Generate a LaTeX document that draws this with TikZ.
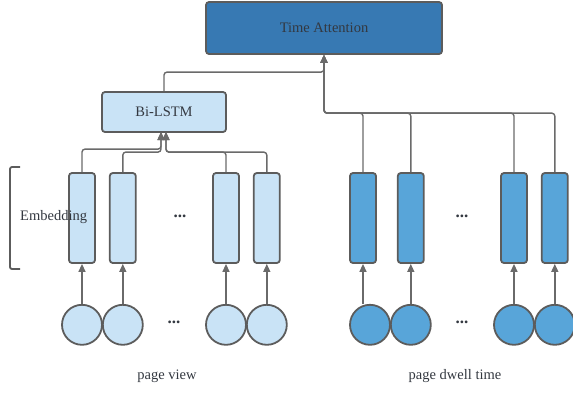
\documentclass[tikz,border=0pt]{standalone}
\usepackage{fontspec}
\setmainfont{Liberation Serif}
\usetikzlibrary{positioning,arrows.meta}

\definecolor{paleblue}{HTML}{C9E3F6}
\definecolor{midblue}{HTML}{58A5D9}
\definecolor{deepblue}{HTML}{3779B3}
\definecolor{edgegray}{HTML}{5C5C5C}
\definecolor{wiregray}{HTML}{6A6A6A}
\definecolor{inkgray}{HTML}{333840}

\begin{document}
\begin{tikzpicture}[x=1pt,y=-1pt]
  % Styles
  \tikzstyle{block}=[draw=edgegray, line width=1.8pt, rounded corners=3pt, text centered, text=inkgray, font=\fontsize{14.5}{16}\selectfont]
  \tikzstyle{embview}=[block, fill=paleblue, minimum width=26pt, minimum height=90pt]
  \tikzstyle{embdwell}=[block, fill=midblue, minimum width=26pt, minimum height=90pt]
  \tikzstyle{inview}=[circle, draw=edgegray, line width=1.8pt, fill=paleblue, minimum size=40pt]
  \tikzstyle{indwell}=[circle, draw=edgegray, line width=1.8pt, fill=midblue, minimum size=40pt]
  \tikzstyle{caption}=[text=inkgray, font=\fontsize{14.5}{16}\selectfont]
  \tikzstyle{dots}=[text=inkgray, font=\fontsize{17}{18}\selectfont\bfseries]
  \tikzstyle{arrow}=[-{Triangle[length=8pt,width=7pt]}, draw=wiregray, line width=1.4pt, rounded corners=3pt]

  \useasboundingbox (0,0) rectangle (573,392);

  % Nodes
  \node[block, fill=deepblue, minimum width=236pt, minimum height=52pt] (att) at (324,28) {Time Attention};
  \node[block, fill=paleblue, minimum width=124pt, minimum height=40pt] (lstm) at (164,112) {Bi-LSTM};

  \node[embview] (v1) at (82,218) {};
  \node[embview, right=13pt of v1] (v2) {};
  \node[embview] (v3) at (226,218) {};
  \node[embview, right=13pt of v3] (v4) {};
  \node[dots] (vdots) at (180,216) {...};

  \node[embdwell] (d1) at (363,218) {};
  \node[embdwell, right=20pt of d1] (d2) {};
  \node[embdwell] (d3) at (514,218) {};
  \node[embdwell, right=13pt of d3] (d4) {};
  \node[dots] (ddots) at (462,216) {...};

  \node[inview, below=40pt of v1] (cv1) {};
  \node[inview, below=40pt of v2] (cv2) {};
  \node[inview, below=40pt of v3] (cv3) {};
  \node[inview, below=40pt of v4] (cv4) {};
  \node[dots] (cvdots) at (174,322) {...};

  \node[indwell, below=40pt of d1, xshift=7pt] (cd1) {};
  \node[indwell, below=40pt of d2] (cd2) {};
  \node[indwell, below=40pt of d3] (cd3) {};
  \node[indwell, below=40pt of d4] (cd4) {};
  \node[dots] (cddots) at (462,322) {...};

  \node[caption] (pview) at (167,376) {page view};
  \node[caption] (pdwell) at (455,376) {page dwell time};

  % Embedding bracket
  \draw[draw=edgegray, line width=1.8pt, rounded corners=2pt] (20,167) -- (10,167) -- (10,269) -- (20,269);
  \node[caption, anchor=west, inner sep=0pt] (emb) at (20,217) {Embedding};

  % Arrows
  \coordinate (inL) at (161,132);
  \coordinate (inR) at (166,132);
  \draw[arrow] (lstm.north) -- ++(0,-19) -| (att.south);
  \foreach \n in {d1,d2,d3,d4}
    \draw[arrow] (\n.north) -- ++(0,-59) -| (att.south);
  \draw[arrow] (v1.north) -- ++(0,-23) -| (inL);
  \draw[arrow] (v2.north) -- ++(0,-20) -| (inL);
  \draw[arrow] (v3.north) -- ++(0,-20) -| (inR);
  \draw[arrow] (v4.north) -- ++(0,-20) -| (inR);
  \foreach \n in {1,2,3,4} {
    \draw[arrow] (cv\n.north) -- (v\n.south);
    \draw[arrow] (cd\n.north -| d\n.south) -- (d\n.south);
  }
\end{tikzpicture}
\end{document}
